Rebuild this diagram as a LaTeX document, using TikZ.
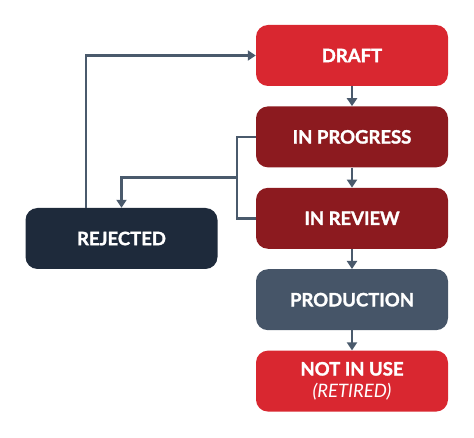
\documentclass[tikz,border=0pt]{standalone}
\usepackage{fontspec}
\setmainfont{Lato}[BoldFeatures={FakeBold=1.6}]
\usetikzlibrary{positioning,arrows.meta,calc}
\definecolor{brightred}{RGB}{217,39,48}
\definecolor{darkred}{RGB}{140,26,31}
\definecolor{navy}{RGB}{30,42,59}
\definecolor{slate}{RGB}{70,85,104}
\definecolor{wire}{RGB}{74,90,108}
\tikzset{
  status/.style={rectangle,rounded corners=12pt,minimum width=192pt,minimum height=61pt,
    text=white,font=\fontsize{18.5}{21}\selectfont\bfseries,align=center,inner sep=2pt},
  flow/.style={draw=wire,line width=2.6pt,-{Triangle[width=10pt,length=8pt]}}
}

\begin{document}
\begin{tikzpicture}[x=1pt,y=1pt,node distance=20pt]
  \useasboundingbox (0,0) rectangle (474,-438);
  \node[status,fill=brightred] (draft) at (352,-55.5) {DRAFT};
  \node[status,fill=darkred,below=of draft] (progress) {IN PROGRESS};
  \node[status,fill=darkred,below=of progress] (review) {IN REVIEW};
  \node[status,fill=slate,below=of review] (production) {PRODUCTION};
  \node[status,fill=brightred,below=of production] (retired)
    {NOT IN USE\\[1pt]{\mdseries\itshape (RETIRED)}};
  \node[status,fill=navy] (rejected) at (121.5,-238.5) {REJECTED};
  % main line
  \foreach \from/\to in {draft/progress,progress/review,review/production,production/retired}
    \draw[flow] (\from) -- (\to);
  % back to rejected
  \coordinate (split) at ($(progress.west)!0.5!(review.west)+(-19,0)$);
  \draw[draw=wire,line width=2.6pt] (progress.west) -| (split) |- (review.west);
  \draw[flow] (split) -| (rejected.north);
  % back to draft
  \draw[flow] ([xshift=-35.5pt]rejected.north) |- (draft.west);
\end{tikzpicture}
\end{document}
